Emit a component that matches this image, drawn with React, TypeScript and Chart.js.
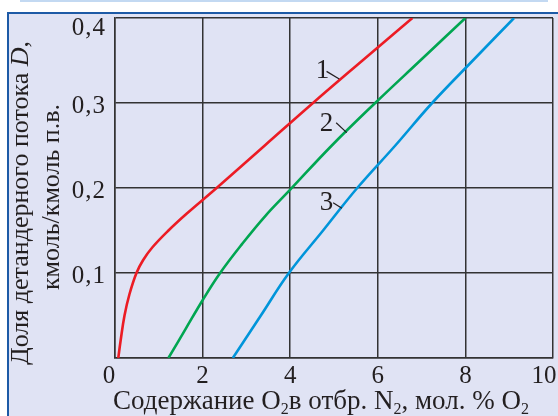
import React, { useEffect, useRef, useState } from "react";
import { Chart, registerables } from "chart.js";

Chart.register(...registerables);

// ---- data ----
const xTicks = [0, 2, 4, 6, 8, 10];
const xTickLabels = ["0", "2", "4", "6", "8", "10"];
const yTicks = [0.1, 0.2, 0.3, 0.4];
const yTickLabels = ["0,1", "0,2", "0,3", "0,4"];

const curve1X = [0.075, 0.127, 0.217, 0.33, 0.49, 0.64, 0.85, 1.22, 1.64, 2.32, 3.42, 4.52, 5.65, 6.79];
const curve1Y = [0, 0.02, 0.05, 0.075, 0.1, 0.115, 0.13, 0.15, 0.17, 0.2, 0.25, 0.3, 0.35, 0.4];

const curve2X = [1.22, 1.61, 2.0, 2.4, 2.9, 3.43, 4.0, 4.95, 5.94, 6.97, 8.0];
const curve2Y = [0, 0.034, 0.068, 0.1, 0.134, 0.167, 0.198, 0.25, 0.3, 0.35, 0.4];

const curve3X = [2.69, 3.33, 3.97, 4.75, 5.53, 6.4, 7.24, 8.17, 9.11];
const curve3Y = [0, 0.05, 0.1, 0.15, 0.2, 0.25, 0.3, 0.35, 0.4];

const curveNames = ["1", "2", "3"];
const curveColors = ["#ec1c24", "#00a651", "#0095da"];
// label anchor (text) and leader line ends, in data units
const labelX = [4.74, 4.83, 4.83];
const labelY = [0.339, 0.277, 0.184];
const leaderFromX = [4.83, 5.05, 4.98];
const leaderFromY = [0.3372, 0.2768, 0.1827];
const leaderToX = [5.12, 5.29, 5.18];
const leaderToY = [0.3282, 0.2651, 0.1761];

const yTitle1 = "Доля детандерного потока ";
const yTitleItalic = "D";
const yTitle1End = ",";
const yTitle2 = "кмоль/кмоль п.в.";
const xTitleParts = ["Содержание O", "2", "в отбр. N", "2", ", мол. % O", "2"];

const FAMILY = '"Liberation Serif"';
const TEXT = "#231f20";

function zip(xs: number[], ys: number[]) {
  return xs.map((x, i) => ({ x, y: ys[i] }));
}

// top offset of a line box (line-height = font size) whose baseline sits at b
const topFor = (b: number, size: number) => b - 0.8375 * size;

const leaderPlugin = {
  id: "leaderPlugin",
  afterDatasetsDraw(chart: any) {
    const { ctx } = chart;
    const xs = chart.scales.x;
    const ys = chart.scales.y;
    ctx.save();
    ctx.strokeStyle = TEXT;
    ctx.lineWidth = 1.2;
    curveNames.forEach((_, i) => {
      ctx.beginPath();
      ctx.moveTo(xs.getPixelForValue(leaderFromX[i]), ys.getPixelForValue(leaderFromY[i]));
      ctx.lineTo(xs.getPixelForValue(leaderToX[i]), ys.getPixelForValue(leaderToY[i]));
      ctx.stroke();
    });
    ctx.restore();
  },
};

type Pos = { xt: number[]; yt: number[]; lx: number[]; ly: number[] };

export default function App() {
  const ref = useRef<HTMLCanvasElement | null>(null);
  const [pos, setPos] = useState<Pos | null>(null);

  useEffect(() => {
    if (!ref.current) return;
    const xsList = [curve1X, curve2X, curve3X];
    const ysList = [curve1Y, curve2Y, curve3Y];
    const chart = new Chart(ref.current, {
      type: "line",
      data: {
        datasets: curveNames.map((n, i) => ({
          label: n,
          data: zip(xsList[i], ysList[i]),
          borderColor: curveColors[i],
          borderWidth: 2.6,
          pointRadius: 0,
          tension: 0.4,
          fill: false,
        })),
      },
      options: {
        animation: false,
        responsive: false,
        devicePixelRatio: 1,
        layout: { padding: { left: 0, right: 5, top: 18, bottom: 0 } },
        plugins: { legend: { display: false }, tooltip: { enabled: false }, title: { display: false } },
        scales: {
          x: {
            type: "linear",
            min: 0,
            max: 10,
            ticks: { display: false, stepSize: 2 },
            grid: { color: "#333333", lineWidth: 1.5, drawTicks: false },
            border: { display: true, color: "#333333", width: 1.5 },
            afterFit: (s: any) => {
              s.height = 58;
            },
          },
          y: {
            type: "linear",
            min: 0,
            max: 0.4,
            ticks: { display: false, stepSize: 0.1 },
            grid: { color: "#333333", lineWidth: 1.5, drawTicks: false },
            border: { display: true, color: "#333333", width: 1.5 },
            afterFit: (s: any) => {
              s.width = 115;
            },
          },
        },
      },
      plugins: [leaderPlugin],
    });
    const xs: any = chart.scales.x;
    const ys: any = chart.scales.y;
    setPos({
      xt: xTicks.map((v) => xs.getPixelForValue(v)),
      yt: yTicks.map((v) => ys.getPixelForValue(v)),
      lx: labelX.map((v) => xs.getPixelForValue(v)),
      ly: labelY.map((v) => ys.getPixelForValue(v)),
    });
    return () => {
      chart.destroy();
    };
  }, []);

  const base: React.CSSProperties = {
    position: "absolute",
    fontFamily: FAMILY,
    color: TEXT,
    whiteSpace: "nowrap",
  };
  const TICK = 25;
  const TITLE = 27;
  const YTITLE = 26;
  const sub: React.CSSProperties = { fontSize: 16, position: "relative", top: 5, lineHeight: 0 };

  return (
    <div
      style={{
        position: "fixed",
        left: 0,
        top: 0,
        width: 558,
        height: 416,
        background: "#ffffff",
        overflow: "hidden",
      }}
    >
      <div style={{ position: "absolute", left: 20, top: 0, width: 528, height: 2, background: "#c3d9f2" }} />
      <div
        style={{
          position: "absolute",
          left: 7,
          top: 12,
          right: 0,
          bottom: 0,
          background: "#e0e3f4",
          borderTop: "2.5px solid #1d5aa6",
          borderLeft: "2.5px solid #1d5aa6",
        }}
      />
      <canvas ref={ref} width={558} height={416} style={{ position: "absolute", left: 0, top: 0 }} />
      {pos && (
        <>
          {xTickLabels.map((t, i) => {
            let px = pos.xt[i];
            if (i === 0) px -= 6;
            if (i === xTickLabels.length - 1) px -= 9;
            return (
              <div
                key={"xt" + i}
                style={{
                  ...base,
                  fontSize: TICK,
                  lineHeight: TICK + "px",
                  left: px,
                  top: topFor(383, TICK),
                  transform: "translateX(-50%)",
                }}
              >
                {t}
              </div>
            );
          })}
          {yTickLabels.map((t, i) => {
            let b = pos.yt[i] + 10;
            if (b < 35) b = 35;
            return (
              <div
                key={"yt" + i}
                style={{
                  ...base,
                  fontSize: TICK,
                  lineHeight: TICK + "px",
                  right: 558 - 106,
                  top: topFor(b, TICK),
                  letterSpacing: 1,
                }}
              >
                {t}
              </div>
            );
          })}
          <div
            style={{
              ...base,
              fontSize: TITLE,
              lineHeight: TITLE + "px",
              left: 321,
              top: topFor(410, TITLE),
              transform: "translateX(-50%)",
            }}
          >
            {xTitleParts.map((p, i) =>
              i % 2 === 1 ? (
                <span key={i} style={sub}>
                  {p}
                </span>
              ) : (
                <span key={i}>{p}</span>
              )
            )}
          </div>
          <div
            style={{
              ...base,
              fontSize: YTITLE,
              lineHeight: YTITLE + "px",
              width: 400,
              height: YTITLE,
              textAlign: "center",
              left: 29 - 0.3375 * YTITLE - 200,
              top: 203 - YTITLE / 2,
              transform: "rotate(-90deg)",
            }}
          >
            {yTitle1}
            <i>{yTitleItalic}</i>
            {yTitle1End}
          </div>
          <div
            style={{
              ...base,
              fontSize: YTITLE,
              lineHeight: YTITLE + "px",
              width: 400,
              height: YTITLE,
              textAlign: "center",
              left: 60 - 0.3375 * YTITLE - 200,
              top: 197 - YTITLE / 2,
              transform: "rotate(-90deg)",
            }}
          >
            {yTitle2}
          </div>
          {curveNames.map((n, i) => (
            <div
              key={"cl" + i}
              style={{
                ...base,
                fontSize: 27,
                lineHeight: "27px",
                left: pos.lx[i],
                top: pos.ly[i] - 13.5,
                transform: "translateX(-50%)",
              }}
            >
              {n}
            </div>
          ))}
        </>
      )}
    </div>
  );
}
